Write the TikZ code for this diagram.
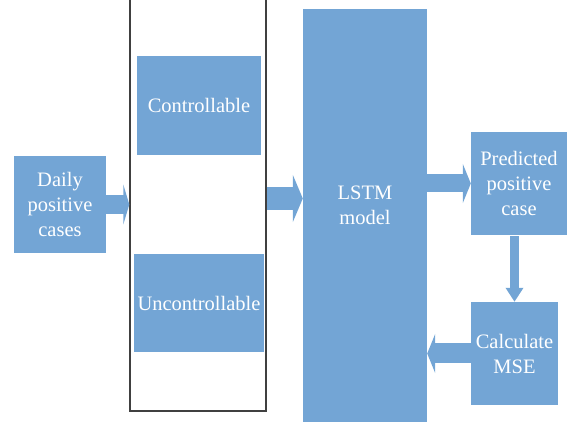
\documentclass[tikz,border=0pt]{standalone}
\usepackage{fontspec}
\setmainfont{Liberation Serif}
\newfontfamily\boxfont{Liberation Serif}
\usepackage{tikz}
\usetikzlibrary{calc,arrows.meta}

\definecolor{boxblue}{RGB}{115,165,213}
\tikzset{
  boxtext/.style={text=white, align=center, font=\boxfont\fontsize{20.5}{25}\selectfont},
  box/.style={boxtext, fill=boxblue, inner sep=0pt},
  flow/.style={draw=boxblue, line width=#1}
}

\begin{document}
\begin{tikzpicture}[x=1pt, y=1pt]
\useasboundingbox (0, 0) rectangle (575, 425);
\clip (0, 0) rectangle (575, 425);

\node[box, minimum width=92, minimum height=97] (daily) at (60, 220.5) {Daily\\positive\\cases};
\node[draw=black!75, line width=1.4pt, minimum width=136, minimum height=421] (outer) at (198, 224.5) {};
\node[box, minimum width=124, minimum height=99] (ctrl) at (199, 319.5) {Controllable};
\node[box, minimum width=130, minimum height=98] (unctrl) at (199, 122) {Uncontrollable};
\node[box, minimum width=124, minimum height=413,
  label={[boxtext, yshift=10]center:LSTM\\model}] (lstm) at (365, 209.5) {};
\node[box, minimum width=96, minimum height=103] (pred) at (519, 241.5) {Predicted\\positive\\case};
\node[box, minimum width=87, minimum height=103] (mse) at (514.5, 71.5) {Calculate\\MSE};
\coordinate (mid) at (0, 226.5);

% block arrows
\draw[flow=19, -{Triangle[length=6, width=40, fill=boxblue]}] (daily.east) -- (outer.west |- daily.east);
\draw[flow=23, -{Triangle[length=10, width=47, fill=boxblue]}] (outer.east |- mid) -- (lstm.west |- mid);
\draw[flow=18, -{Triangle[length=8, width=39, fill=boxblue]}] (lstm.east |- pred.west) -- (pred.west);
\draw[flow=9, -{Triangle[length=14, width=17, fill=boxblue]}] ($(pred.south -| mse.north)+(0,-1)$) -- (mse.north);
\draw[flow=20, -{Triangle[length=8, width=39, fill=boxblue]}] (mse.west) -- (mse.west -| lstm.east);
\end{tikzpicture}
\end{document}
